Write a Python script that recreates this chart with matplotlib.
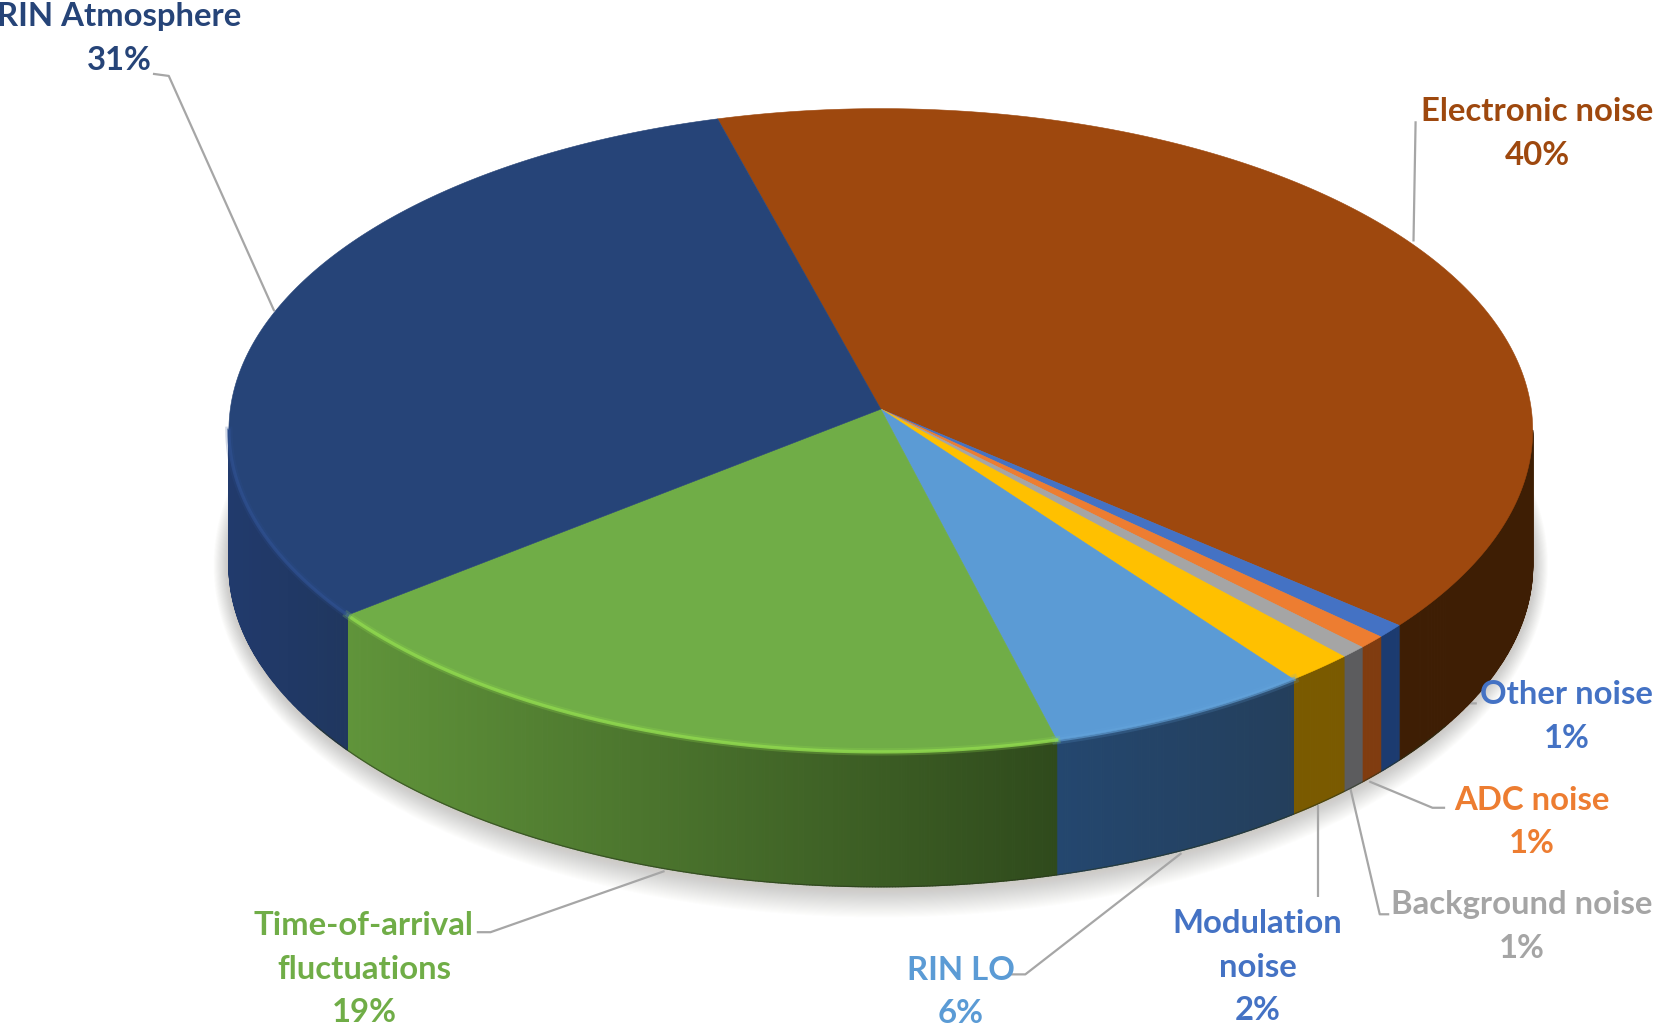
import numpy as np
import matplotlib
matplotlib.use("Agg")
import matplotlib.pyplot as plt
from matplotlib.collections import PolyCollection
from matplotlib.colors import to_rgb
from matplotlib.patches import Ellipse, Polygon

# clockwise from the top of the pie
names = ["Electronic noise", "Other noise", "ADC noise", "Background noise",
         "Modulation\nnoise", "RIN LO", "Time-of-arrival\nfluctuations", "RIN Atmosphere"]
labels = ["40%", "1%", "1%", "1%", "2%", "6%", "19%", "31%"]
# slice sizes as seen in the picture (printed labels are rounded)
shares = [39.4, 0.72, 0.69, 0.64, 1.67, 6.56, 19.6, 30.72]

top_colors = ["#9e480e", "#4472c4", "#ed7d31", "#a5a5a5", "#ffc000", "#5b9bd5", "#70ad47", "#264478"]
wall_left = ["#3e1e04", "#1c3b70", "#803c10", "#5c5c5e", "#7a5a00", "#24476f", "#60943a", "#213a6c"]
wall_right = ["#3e1e04", "#1c3b70", "#803c10", "#5c5c5e", "#7a5a00", "#243f5c", "#2f4a1c", "#20375f"]
rim_colors = ["#9e480e", "#4472c4", "#ed7d31", "#a5a5a5", "#ffc000", "#63a3db", "#8fd84e", "#2f5090"]
text_colors = ["#9e480e", "#4472c4", "#ed7d31", "#a5a5a5", "#4472c4", "#5b9bd5", "#70ad47", "#264478"]

# label centres, first line of each block
text_pos = [(1457, 106), (1485, 659), (1452, 759), (1443, 858),
            (1192, 876), (911, 920), (345, 878), (113, 16)]
line_gap = 41

# leader lines
leaders = [
    [(1342, 115), (1340, 229)],
    [(1400, 667), (1389, 667), (1311, 730)],
    [(1370, 766), (1358, 766), (1298, 741)],
    [(1317, 867), (1308, 867), (1280, 747)],
    [(1249, 851), (1249, 763)],
    [(958, 924), (972, 924), (1120, 809)],
    [(452, 884), (465, 884), (630, 826)],
    [(145, 70), (160, 72), (260, 295)],
]

cx, cy = 835, 408
rx, ry = 618, 305
depth = 128
apex = (835, 388)
start = 104.5

plt.rcParams["font.family"] = ["Lato", "DejaVu Sans"]
fig = plt.figure(figsize=(16.54, 10.25), dpi=100)
ax = fig.add_axes([0, 0, 1, 1])
ax.set_xlim(0, 1568)
ax.set_ylim(972, 0)
ax.axis("off")


def rim(t, drop=0):
    t = np.radians(t)
    return cx + rx * np.cos(t), cy - ry * np.sin(t) + drop


# soft shadow under the pie
for k in range(0, 30):
    ax.add_patch(Ellipse((cx, cy + depth), 2 * (rx + k * 0.5), 2 * (ry + k),
                         fc="#a09c95", ec="none", alpha=0.018, zorder=1))

for pts in leaders:
    xs, ys = zip(*pts)
    ax.plot(xs, ys, color="#a6a6a6", lw=1.6, zorder=2, solid_capstyle="butt")

edges = start - np.cumsum([0] + shares) / sum(shares) * 360

for i in range(len(shares)):
    a, b = edges[i], edges[i + 1]
    ts = np.linspace(a, b, max(int(a - b), 2) * 2 + 2)

    # side wall, only the part facing the viewer
    lo, hi = max(b, -180), min(a, 0)
    if hi > lo:
        wt = np.linspace(hi, lo, max(int(hi - lo) * 4, 2) + 1)
        quads, cols = [], []
        c0, c1 = np.array(to_rgb(wall_left[i])), np.array(to_rgb(wall_right[i]))
        xa, xb = sorted([rim(lo)[0], rim(hi)[0]])
        for t0, t1 in zip(wt[:-1], wt[1:]):
            x0, y0 = rim(t0)
            x1, y1 = rim(t1)
            quads.append([(x0, y0), (x1, y1), (x1, y1 + depth), (x0, y0 + depth)])
            f = ((x0 + x1) / 2 - xa) / max(xb - xa, 1)
            cols.append(c0 + (c1 - c0) * f)
        ax.add_collection(PolyCollection(quads, facecolors=cols, edgecolors=cols, lw=0.8, zorder=3))

    # top face
    rx_pts, ry_pts = rim(ts)
    verts = [apex] + list(zip(rx_pts, ry_pts))
    ax.add_patch(Polygon(verts, closed=True, fc=top_colors[i], ec=top_colors[i], lw=0.4, zorder=4))

# thin dark line at the foot of the wall
ts = np.linspace(-150, -30, 300)
xs, ys = rim(ts, depth)
ax.plot(xs, ys, color="#26331a", lw=0.9, alpha=0.55, zorder=3.5)

# lit edge along the front rim, with a soft glow
for i, width, alpha in [(5, 3.0, 0.6), (6, 2.4, 0.85), (7, 2.4, 0.7)]:
    a, b = edges[i], edges[i + 1]
    lo, hi = max(b, -180), min(a, 0)
    ts = np.linspace(hi, lo, 200)
    xs, ys = rim(ts)
    ax.plot(xs, ys, color=rim_colors[i], lw=width * 2.2, alpha=alpha * 0.3, zorder=5)
    ax.plot(xs, ys, color=rim_colors[i], lw=width, alpha=alpha, zorder=5)

for name, pct, col, (tx, ty) in zip(names, labels, text_colors, text_pos):
    for j, line in enumerate((name + "\n" + pct).split("\n")):
        ax.text(tx, ty + j * line_gap, line, color=col, fontsize=23.7, fontweight="bold",
                ha="center", va="center", zorder=6)

fig.savefig("out.png", dpi=100, facecolor="white")
